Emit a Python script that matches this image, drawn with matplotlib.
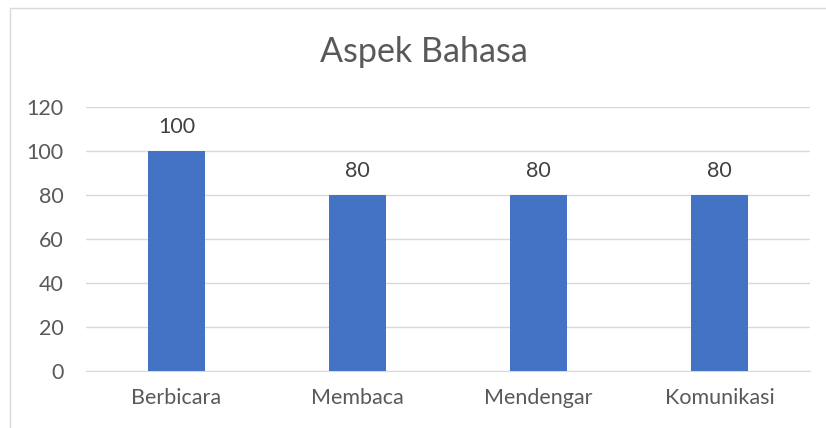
import matplotlib.pyplot as plt
from matplotlib.patches import Rectangle

categories = ['Berbicara', 'Membaca', 'Mendengar', 'Komunikasi']
values = [100, 80, 80, 80]

plt.rcParams['font.family'] = ['Lato', 'DejaVu Sans']

fig = plt.figure(figsize=(8.26, 4.28), dpi=100)
ax = fig.add_axes([0.104, 0.1332, 0.877, 0.6168])

x = range(len(categories))
ax.bar(x, values, width=0.315, color='#4472c4', zorder=3)
for xi, v in zip(x, values):
    ax.annotate(str(v), (xi, v), xytext=(0, 13), textcoords='offset points',
                ha='center', va='baseline', fontsize=15.5, color='#404040')

ax.set_xlim(-0.5, 3.5)
ax.set_ylim(0, 120)
ax.set_yticks(range(0, 121, 20))
ax.set_xticks(list(x))
ax.set_xticklabels(categories)
ax.tick_params(axis='both', length=0, labelsize=15.5, colors='#595959')
ax.tick_params(axis='x', pad=12)
ax.tick_params(axis='y', pad=16)
ax.grid(axis='y', color='#d9d9d9', linewidth=1, zorder=0)
for s in ['left', 'right', 'top']:
    ax.spines[s].set_visible(False)
ax.spines['bottom'].set_color('#d9d9d9')

fig.text(0.513, 0.879, 'Aspek Bahasa', ha='center', va='center', fontsize=24.5, color='#595959')

fig.patches.append(Rectangle((10 / 826, -0.2), 1.2, 1.2 - 8 / 428, transform=fig.transFigure,
                             fill=False, edgecolor='#d9d9d9', linewidth=1))

fig.savefig('out.png', dpi=100)
